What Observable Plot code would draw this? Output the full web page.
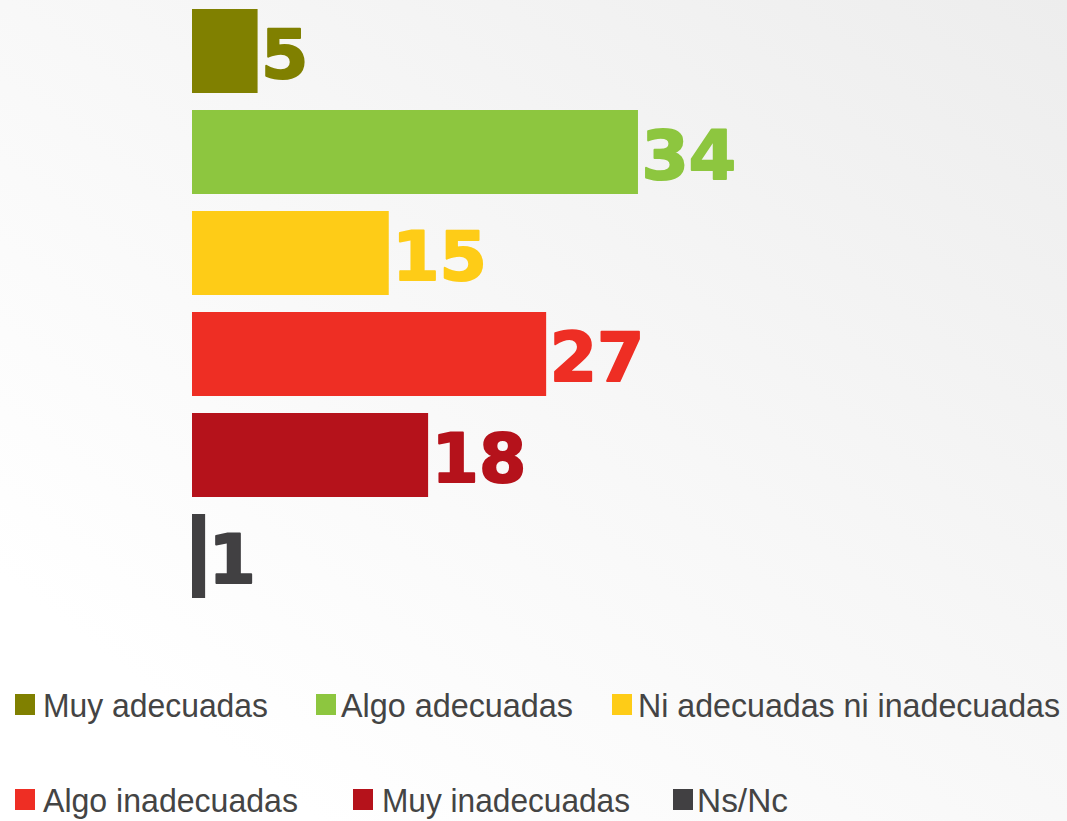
<!DOCTYPE html>
<html>
<head>
<meta charset="utf-8">
<script src="https://cdn.jsdelivr.net/npm/d3@7"></script>
<script src="https://cdn.jsdelivr.net/npm/@observablehq/plot@0.6"></script>
<style>
  html, body { margin: 0; padding: 0; }
  body { width: 1067px; height: 821px; overflow: hidden;
         background: linear-gradient(to bottom left, #ededed 0%, #f7f7f7 45%, #ffffff 85%); }
  #wrap { position: relative; width: 1067px; height: 821px; }
  #chart { position: absolute; left: 0; top: 0; }
  #legend { position: absolute; left: 0; top: 640px; }
</style>
</head>
<body>
<div id="wrap">
  <div id="chart"></div>
  <svg id="legend" width="1067" height="181"></svg>
</div>
<script>
const categories = ["Muy adecuadas", "Algo adecuadas", "Ni adecuadas ni inadecuadas", "Algo inadecuadas", "Muy inadecuadas", "Ns/Nc"];
const values = [5, 34, 15, 27, 18, 1];
const palette = ["#808000", "#8dc63f", "#fecc17", "#ee2e24", "#b5121b", "#414042"];

const data = categories.map((c, i) => ({category: c, value: values[i]}));

const chart = Plot.plot({
  width: 1067,
  height: 640,
  marginLeft: 192,
  marginRight: 88,
  marginTop: 8,
  marginBottom: 40.5,
  style: {background: "transparent", overflow: "visible"},
  x: {domain: [0, 60], axis: null},
  y: {domain: categories, axis: null, paddingInner: 0.172, paddingOuter: 0},
  color: {domain: categories, range: palette},
  marks: [
    Plot.barX(data, {x: "value", y: "category", fill: "category"}),
    Plot.text(data, {
      x: "value", y: "category", text: d => String(d.value),
      fill: "category", stroke: "category", strokeWidth: 2,
      textAnchor: "start", dx: 3, dy: 5,
      fontSize: 68, fontWeight: "bold", fontFamily: "DejaVu Sans"
    })
  ]
});
document.getElementById("chart").appendChild(chart);

// Legend (below the chart)
const legendRows = [
  [{i: 0, sx: 15, tx: 43, tw: 225}, {i: 1, sx: 316, tx: 341, tw: 232}, {i: 2, sx: 612, tx: 638, tw: 422}],
  [{i: 3, sx: 15, tx: 43, tw: 255}, {i: 4, sx: 353, tx: 382, tw: 248}, {i: 5, sx: 673, tx: 697, tw: 91}]
];
const rowBase = [77, 172];
const lg = d3.select("#legend");
legendRows.forEach((row, r) => {
  row.forEach(it => {
    lg.append("rect").attr("x", it.sx).attr("y", rowBase[r] - 23).attr("width", 20).attr("height", 21)
      .attr("fill", palette[it.i]);
    lg.append("g").attr("transform", `translate(${it.tx},${rowBase[r]}) scale(1,1.1)`)
      .append("text").attr("x", 0).attr("y", 0)
      .attr("font-family", "Liberation Sans, Arial, sans-serif").attr("font-size", 30.5)
      .attr("fill", "#444444")
      .attr("textLength", it.tw).attr("lengthAdjust", "spacingAndGlyphs")
      .text(categories[it.i]);
  });
});
</script>
</body>
</html>
